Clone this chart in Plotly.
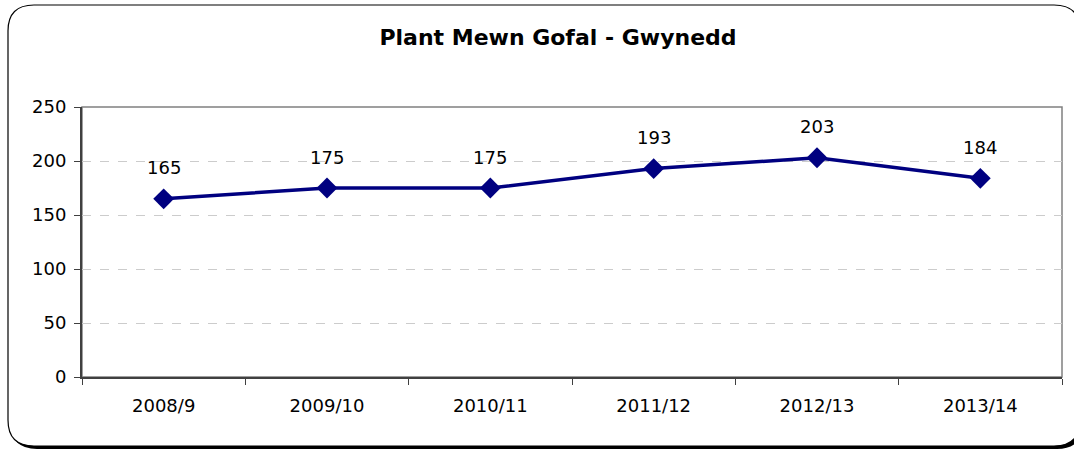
import plotly.graph_objects as go

categories = ["2008/9", "2009/10", "2010/11", "2011/12", "2012/13", "2013/14"]
values = [165, 175, 175, 193, 203, 184]
y_ticks = [0, 50, 100, 150, 200, 250]

W, H = 1074, 451
L, R, T, B = 82, 1062, 107, 377
pw, ph = R - L, B - T
FONT = "DejaVu Sans"


def px(x):
    return (x - L) / pw


def py(y):
    return (B - y) / ph


def rounded_path(x0, y0, x1, y1, r):
    def P(x, y):
        return f"{px(x):.5f},{py(y):.5f}"
    return (f"M {P(x0 + r, y0)} L {P(x1 - r, y0)} "
            f"Q {P(x1, y0)} {P(x1, y0 + r)} "
            f"L {P(x1, y1 - r)} Q {P(x1, y1)} {P(x1 - r, y1)} "
            f"L {P(x0 + r, y1)} Q {P(x0, y1)} {P(x0, y1 - r)} "
            f"L {P(x0, y0 + r)} Q {P(x0, y0)} {P(x0 + r, y0)} Z")


fig = go.Figure()
fig.add_trace(go.Scatter(
    x=categories, y=values, mode="lines+markers",
    line=dict(color="#000080", width=3.5),
    marker=dict(symbol="diamond", size=16, color="#000080"),
    hoverinfo="skip", showlegend=False,
))

for c, v in zip(categories, values):
    fig.add_annotation(x=c, y=v, text=str(v), showarrow=False, yshift=31,
                       font=dict(family=FONT, size=18, color="black"))

shapes = [
    dict(type="path", xref="paper", yref="paper", path=rounded_path(11, 8, 1083, 449, 26),
         fillcolor="black", line=dict(width=0), layer="below"),
    dict(type="path", xref="paper", yref="paper", path=rounded_path(8, 5, 1080, 446, 26),
         fillcolor="white", line=dict(color="black", width=1.2), layer="below"),
    dict(type="rect", xref="paper", yref="paper", x0=0, y0=0, x1=1, y1=1,
         line=dict(color="#808080", width=1.5), layer="below"),
]

fig.update_layout(
    width=W, height=H,
    margin=dict(l=L, r=W - R, t=T, b=H - B),
    paper_bgcolor="white", plot_bgcolor="white",
    shapes=shapes,
    title=dict(text="<b>Plant Mewn Gofal - Gwynedd</b>", x=558 / W, xref="container",
               xanchor="center", y=1 - 37 / H, yref="container", yanchor="middle",
               font=dict(family=FONT, size=22, color="black")),
    font=dict(family=FONT, size=18, color="black"),
    xaxis=dict(type="category", range=[-0.5, 5.5], showgrid=False,
               showline=True, linecolor="#404040", linewidth=2,
               ticks="outside", tickson="boundaries", ticklen=6, tickcolor="#404040",
               ticklabelstandoff=11, zeroline=False, fixedrange=True),
    yaxis=dict(range=[0, 250], tickvals=y_ticks, showgrid=True,
               gridcolor="#cccccc", griddash="dash", gridwidth=1,
               showline=True, linecolor="#404040", linewidth=2,
               ticks="outside", ticklen=6, tickcolor="#404040",
               ticklabelstandoff=4, zeroline=False, fixedrange=True),
)

fig.write_html("out.html", config={"displayModeBar": False},
               post_script="document.body.style.margin='0';document.body.style.overflow='hidden';")
